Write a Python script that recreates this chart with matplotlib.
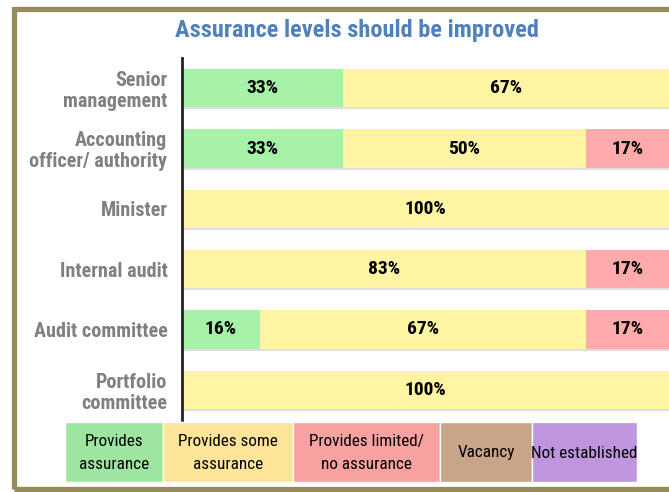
import matplotlib
matplotlib.use("Agg")
import matplotlib.pyplot as plt
from matplotlib.patches import Rectangle
import numpy as np

plt.rcParams["font.family"] = ["Roboto Condensed", "Liberation Sans", "DejaVu Sans"]

categories = ["Senior\nmanagement", "Accounting\nofficer/ authority", "Minister",
              "Internal audit", "Audit committee", "Portfolio\ncommittee"]
provides = [33, 33, 0, 0, 16, 0]
some = [67, 50, 100, 83, 67, 100]
limited = [0, 17, 0, 17, 17, 0]

series = [provides, some, limited]
bar_colors = ["#a6f2a9", "#fff4a3", "#ffabab"]

legend_labels = ["Provides\nassurance", "Provides some\nassurance", "Provides limited/\nno assurance",
                 "Vacancy", "Not established"]
legend_colors = ["#9ee6a0", "#fde499", "#f7a1a1", "#c8a488", "#bf96de"]

W, H = 669, 492
fig = plt.figure(figsize=(W / 100, H / 100), dpi=100)

# olive frame, open on the right
fig.patches.append(Rectangle((13.5 / W, 1 - 488.5 / H), 1.0, (488.5 - 8.5) / H,
                             transform=fig.transFigure, fill=False,
                             edgecolor="#968c5b", linewidth=3.8))

fig.text(357 / W, 1 - 31 / H, "Assurance levels should be improved", ha="center", va="center",
         fontsize=17.6, fontweight="bold", color="#4f81bd")

ax = fig.add_axes([182 / W, 1 - 420 / H, 1 - 182 / W, (420 - 58) / H])
y = np.arange(len(categories))
h = 0.63

# soft shadow under each bar
ax.barh(y + 0.035, [100] * len(y), height=h, color="#c4c4c4", alpha=0.55, zorder=1)

left = np.zeros(len(y))
for vals, c in zip(series, bar_colors):
    vals = np.array(vals, dtype=float)
    ax.barh(y, vals, left=left, height=h, color=c, zorder=2)
    for i, v in enumerate(vals):
        if v > 0:
            ax.text(left[i] + v / 2, y[i], f"{int(v)}%", ha="center", va="center",
                    fontsize=14, fontweight="bold", color="black", zorder=3)
    left += vals

ax.set_xlim(0, 100)
ax.set_ylim(5.5, -0.5)
ax.set_yticks(y)
ax.set_yticklabels(categories, fontsize=14.5, fontweight="bold", color="#808080", linespacing=1.12)
ax.tick_params(axis="y", length=0, pad=10.5)
ax.set_xticks([])
for s in ["top", "right", "bottom"]:
    ax.spines[s].set_visible(False)
ax.spines["left"].set_linewidth(2)
ax.spines["left"].set_color("#222222")
ax.patch.set_visible(False)

# legend as a row of coloured cells
edges = [65, 163, 293, 440, 532, 637]
y0, y1 = 422, 482
for i, (lab, c) in enumerate(zip(legend_labels, legend_colors)):
    x0, x1 = edges[i], edges[i + 1]
    fig.patches.append(Rectangle((x0 / W, 1 - y1 / H), (x1 - x0) / W, (y1 - y0) / H,
                                 transform=fig.transFigure, facecolor=c,
                                 edgecolor="white", linewidth=1))
    fig.text((x0 + x1) / 2 / W, 1 - (y0 + y1 + 2) / 2 / H, lab, ha="center", va="center",
             fontsize=12.3, color="black", linespacing=1.6)

fig.savefig("out.png", dpi=100)
